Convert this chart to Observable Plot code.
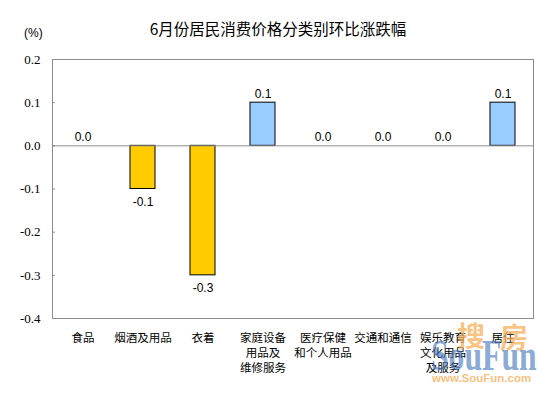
<!DOCTYPE html>
<html>
<head>
<meta charset="utf-8">
<script src="https://cdn.jsdelivr.net/npm/d3@7"></script>
<script src="https://cdn.jsdelivr.net/npm/@observablehq/plot@0.6"></script>
<style>
  html, body { margin: 0; padding: 0; background: #fff; }
  #wrap { position: relative; width: 554px; height: 398px; overflow: hidden; }
  #title { position: absolute; left: 0; top: 19px; width: 556px; text-align: center;
    font: 15.5px "Noto Sans CJK SC", sans-serif; color: #000; line-height: 1.2; }
  #unit { position: absolute; left: 24px; top: 26px; font: 12px "Liberation Sans", sans-serif; color: #000; }
  .wm { position: absolute; pointer-events: none; white-space: nowrap; line-height: 1; }
  .wm.cn { font: bold 28px "Noto Sans CJK SC", sans-serif; color: rgba(247, 176, 90, 0.75); line-height: 1; }
  .wm.en { left: 431px; top: 334px; font: bold 44px "Liberation Serif", serif; color: rgba(70, 120, 190, 0.65);
    transform: scaleX(0.72); transform-origin: 0 0; line-height: 1; }
  .wm.url { left: 432px; top: 372px; font: bold 11.5px "Liberation Sans", sans-serif; color: rgba(247, 176, 90, 0.8); }
</style>
</head>
<body>
<div id="wrap">
  <div id="chart"></div>
  <div id="title">6月份居民消费价格分类别环比涨跌幅</div>
  <div id="unit">(%)</div>
  <span class="wm cn" style="left:457px;top:321px">搜</span>
  <span class="wm cn" style="left:500px;top:322px">房</span>
  <span class="wm en">SouFun</span>
  <span class="wm url">www.SouFun.com</span>
</div>
<script>
const categories = ["食品", "烟酒及用品", "衣着", "家庭设备用品及维修服务", "医疗保健和个人用品", "交通和通信", "娱乐教育文化用品及服务", "居住"];
const categoryLabels = ["食品", "烟酒及用品", "衣着", "家庭设备\n用品及\n维修服务", "医疗保健\n和个人用品", "交通和通信", "娱乐教育\n文化用品\n及服务", "居住"];
const values = [0.0, -0.1, -0.3, 0.1, 0.0, 0.0, 0.0, 0.1];
const yTicks = [-0.4, -0.3, -0.2, -0.1, 0.0, 0.1, 0.2];

const data = categories.map((c, i) => ({category: c, label: categoryLabels[i], value: values[i]}));
const labelOf = new Map(data.map(d => [d.category, d.label]));

const chart = Plot.plot({
  width: 554,
  height: 398,
  marginTop: 59,
  marginBottom: 80,
  marginLeft: 52,
  marginRight: 21,
  style: {background: "#fff", overflow: "visible"},
  x: {domain: categories, paddingInner: 0.58, paddingOuter: 0.29, label: null},
  y: {domain: [-0.4, 0.2], label: null},
  marks: [
    Plot.frame({stroke: "#8c8c8c"}),
    Plot.axisY({ticks: yTicks, tickSize: 0, tickPadding: 12, tickFormat: d => d.toFixed(1),
      fontFamily: "Liberation Serif", fontSize: 13, fill: "#000", label: null}),
    Plot.tickY(yTicks.slice(1, -1), {stroke: "#8c8c8c", insetRight: 478}),
    Plot.axisX({tickSize: 0, tickPadding: 13, tickFormat: d => labelOf.get(d),
      fontFamily: "Noto Sans CJK SC", fontSize: 11.5, lineHeight: 1.3, fill: "#000", label: null}),
    Plot.barY(data, {filter: d => d.value !== 0, x: "category", y: "value",
      fill: d => d.value < 0 ? "#FFCC00" : "#99CCFF", stroke: "#000", strokeWidth: 1}),
    Plot.ruleY([0], {stroke: "#8c8c8c"}),
    Plot.text(data, {filter: d => d.value >= 0, x: "category", y: "value", text: d => d.value.toFixed(1),
      dy: -9, fontFamily: "Liberation Sans", fontSize: 12, fill: "#000"}),
    Plot.text(data, {filter: d => d.value < 0, x: "category", y: "value", text: d => d.value.toFixed(1),
      dy: 13, fontFamily: "Liberation Sans", fontSize: 12, fill: "#000"})
  ]
});
document.getElementById("chart").appendChild(chart);
</script>
</body>
</html>
